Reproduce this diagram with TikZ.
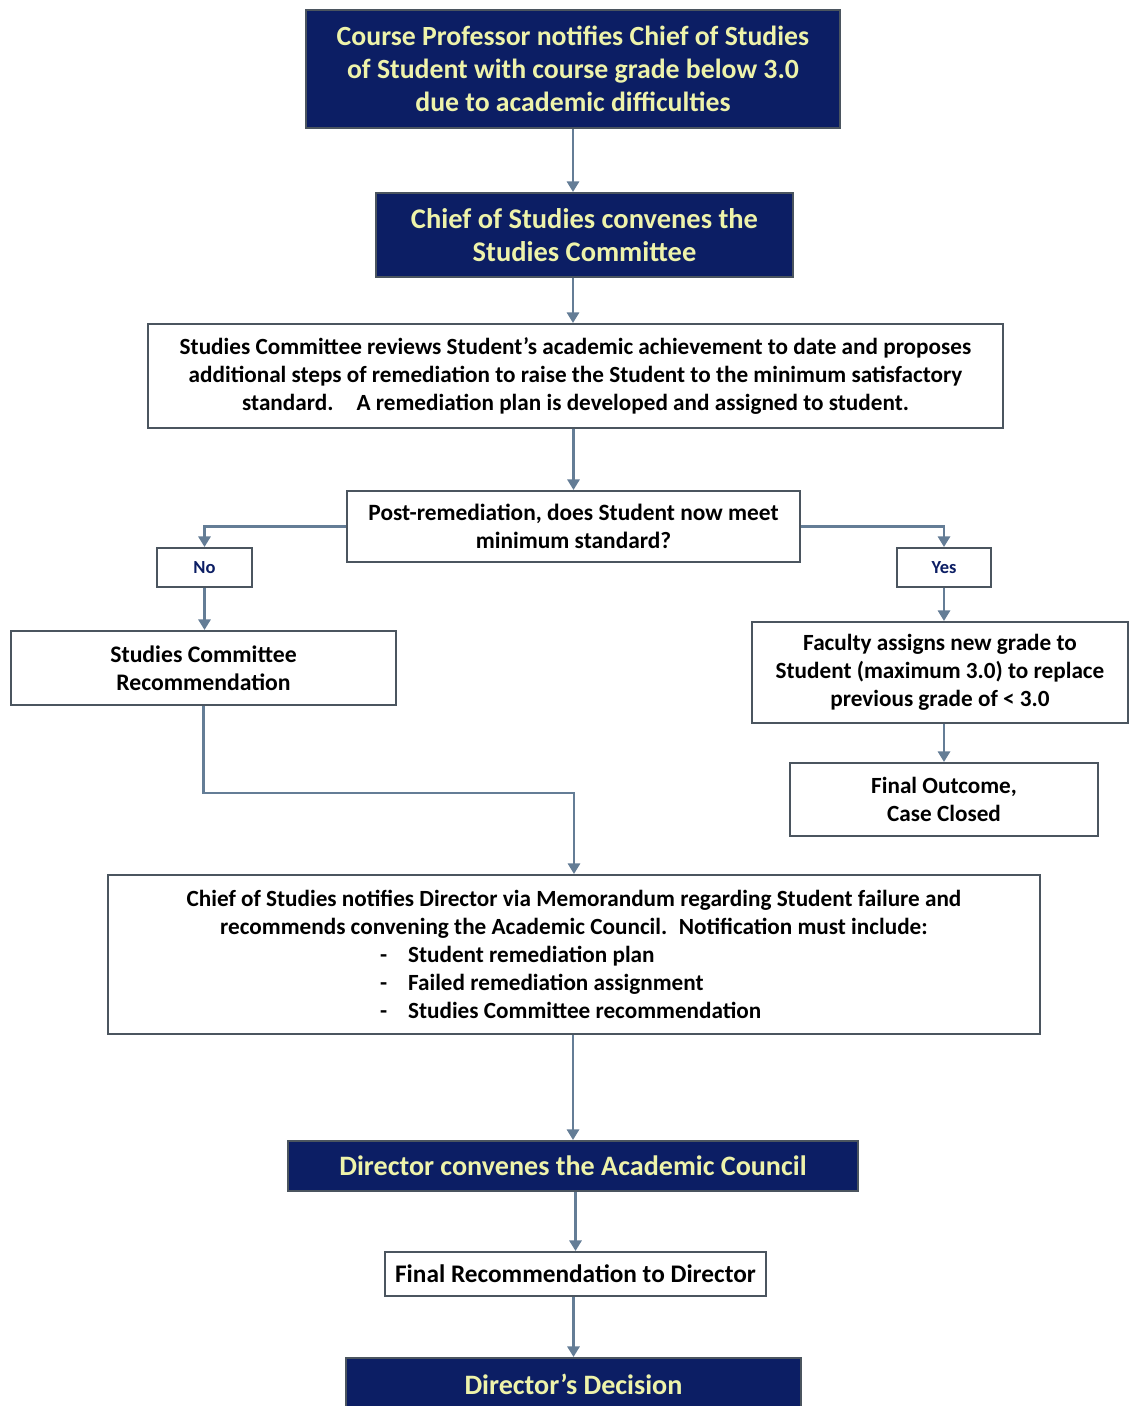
\documentclass[tikz,border=0pt]{standalone}
\usepackage{fontspec}
\setmainfont{Carlito}
\usepackage{xcolor}
\usetikzlibrary{arrows.meta}
\definecolor{navybox}{RGB}{12,30,100}
\definecolor{paletext}{RGB}{238,243,170}
\definecolor{edgegray}{RGB}{75,85,95}
\definecolor{linkblue}{RGB}{100,125,150}
\newcommand{\bulletline}[1]{\makebox[7.76cm][l]{-\hspace{0.42cm}#1}}

\begin{document}
\begin{tikzpicture}[
        darkbox/.style={rectangle, draw=edgegray, line width=1.2pt, fill=navybox, text=paletext, align=center, inner sep=0pt, font=\bfseries},
        plainbox/.style={rectangle, draw=edgegray, line width=1.2pt, fill=white, align=center, inner sep=0pt, font=\bfseries},
        link/.style={draw=linkblue, line width=1.2pt, -{Triangle[width=7pt,length=6pt]}}
    ]
            \useasboundingbox (0, 0) rectangle (22.58, -28.12);
            \node[darkbox, minimum width=10.68cm, minimum height=2.36cm, font=\bfseries\fontsize{15.8}{18.8}\selectfont] at (11.46, -1.38) (prof) {Course Professor notifies Chief of Studies\\of Student with course grade below 3.0\\due to academic difficulties};
            \node[darkbox, minimum width=8.34cm, minimum height=1.68cm, font=\bfseries\fontsize{16.2}{18.8}\selectfont] at (11.69, -4.70) (chief) {Chief of Studies convenes the\\Studies Committee};
            \node[plainbox, minimum width=17.1cm, minimum height=2.08cm, font=\bfseries\fontsize{13.2}{15.9}\selectfont] at (11.51, -7.52) (review) {Studies Committee reviews Student’s academic achievement to date and proposes\\additional steps of remediation to raise the Student to the minimum satisfactory\\standard.\quad A remediation plan is developed and assigned to student.};
            \node[plainbox, minimum width=9.06cm, minimum height=1.42cm, font=\bfseries\fontsize{13.3}{15.9}\selectfont] at (11.47, -10.53) (meet) {Post-remediation, does Student now meet\\minimum standard?};
            \node[plainbox, minimum width=1.9cm, minimum height=0.78cm, text=navybox, font=\bfseries\fontsize{10.5}{12}\selectfont] at (4.09, -11.35) (no) {No};
            \node[plainbox, minimum width=1.88cm, minimum height=0.78cm, text=navybox, font=\bfseries\fontsize{10.5}{12}\selectfont] at (18.88, -11.35) (yes) {Yes};
            \node[plainbox, minimum width=7.7cm, minimum height=1.48cm, font=\bfseries\fontsize{13.5}{15.9}\selectfont] at (4.07, -13.36) (screc) {Studies Committee\\Recommendation};
            \node[plainbox, minimum width=7.52cm, minimum height=2.02cm, font=\bfseries\fontsize{13.2}{15.9}\selectfont] at (18.8, -13.45) (faculty) {Faculty assigns new grade to\\Student (maximum 3.0) to replace\\previous grade of < 3.0};
            \node[plainbox, minimum width=6.16cm, minimum height=1.46cm, font=\bfseries\fontsize{13.2}{15.9}\selectfont] at (18.88, -15.99) (final) {Final Outcome,\\Case Closed};
            \node[plainbox, minimum width=18.64cm, minimum height=3.18cm, font=\bfseries\fontsize{13.2}{15.9}\selectfont] at (11.48, -19.09) (memo) {Chief of Studies notifies Director via Memorandum regarding Student failure and\\recommends convening the Academic Council.\enspace Notification must include:\\\bulletline{Student remediation plan}\\\bulletline{Failed remediation assignment}\\\bulletline{Studies Committee recommendation}};
            \node[darkbox, minimum width=11.4cm, minimum height=1.0cm, font=\bfseries\fontsize{16}{18}\selectfont] at (11.46, -23.32) (council) {Director convenes the Academic Council};
            \node[plainbox, minimum width=7.62cm, minimum height=0.88cm, font=\bfseries\fontsize{14.4}{16}\selectfont] at (11.51, -25.48) (finrec) {Final Recommendation to Director};
            \node[darkbox, minimum width=9.1cm, minimum height=1.04cm, font=\bfseries\fontsize{16}{18}\selectfont] at (11.47, -27.68) (decision) {Director’s Decision};

            \draw [link] (prof.south) -- (prof.south |- chief.north);
            \draw [link] (prof.south |- chief.south) -- (prof.south |- review.north);
            \draw [link] (meet.north |- review.south) -- (meet.north);
            \draw [link] (meet.west) -| (no.north);
            \draw [link] (meet.east) -| (yes.north);
            \draw [link] (no.south) -- (no.south |- screc.north);
            \draw [link] (yes.south) -- (yes.south |- faculty.north);
            \draw [link] (final.north |- faculty.south) -- (final.north);
            \draw [link] (screc.south) -- ++(0, -1.74) -| (memo.north);
            \draw [link] (council.north |- memo.south) -- (council.north);
            \draw [link] (finrec.north |- council.south) -- (finrec.north);
            \draw [link] (decision.north |- finrec.south) -- (decision.north);
        \end{tikzpicture}
\end{document}
